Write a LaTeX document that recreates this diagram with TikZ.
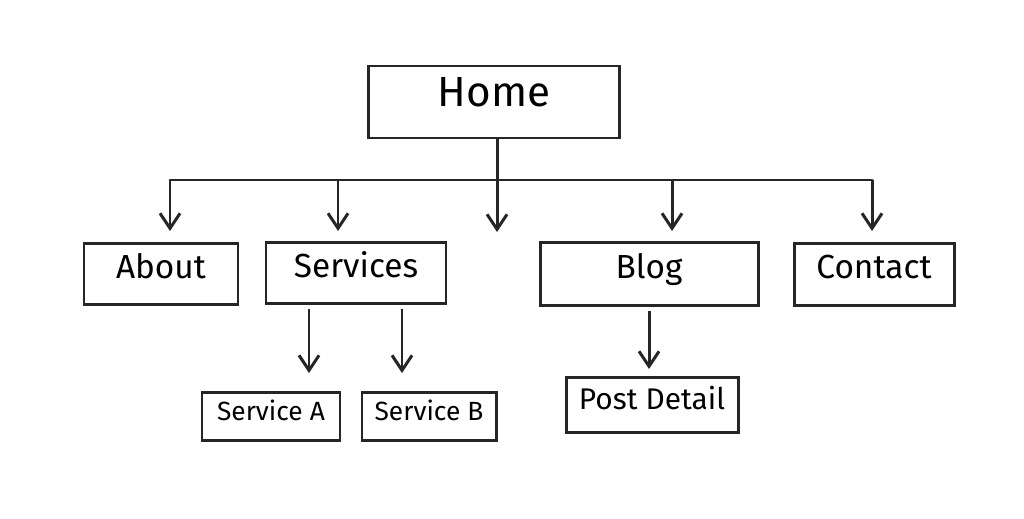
\documentclass[tikz,border=0pt]{standalone}
\usepackage{fontspec}
\setmainfont{Fira Sans}
\usetikzlibrary{arrows.meta,positioning}
\tikzset{
  page/.style={draw=none,fill=white},
  box/.style={draw=black!85, line width=1.7pt, inner sep=0pt, text height=0.72em, text depth=0.22em},
  link/.style={-{Straight Barb[length=3mm,width=4mm]}, line width=1.7pt, black!85},
}
\begin{document}
\begin{tikzpicture}[x=0.02cm,y=-0.02cm]
    \path[page] (0,0) rectangle (1024,518);
    \useasboundingbox (0,0) rectangle (1024,518);
    % pages
    \node[box, minimum width=251*0.02cm, minimum height=72*0.02cm, font=\fontsize{24}{28}\selectfont] (home) at (494,102) {Home};
    \node[box, minimum width=154*0.02cm, minimum height=61*0.02cm, font=\fontsize{19}{22}\selectfont] (about) at (161,274) {About};
    \node[box, minimum width=180*0.02cm, minimum height=61*0.02cm, font=\fontsize{19}{22}\selectfont] (services) at (356,273) {Services};
    \node[box, minimum width=218*0.02cm, minimum height=63*0.02cm, font=\fontsize{19}{22}\selectfont] (blog) at (649,274) {Blog};
    \node[box, minimum width=160*0.02cm, minimum height=62*0.02cm, font=\fontsize{19}{22}\selectfont] (contact) at (874,274) {Contact};
    \node[box, minimum width=138*0.02cm, minimum height=48*0.02cm, font=\fontsize{15}{18}\selectfont] (servA) at (271,416) {Service A};
    \node[box, minimum width=134*0.02cm, minimum height=48*0.02cm, font=\fontsize{15}{18}\selectfont] (servB) at (429,416) {Service B};
    \node[box, minimum width=172*0.02cm, minimum height=55*0.02cm, font=\fontsize{17}{20}\selectfont] (post) at (652,405) {Post Detail};
    % bus and arrow ends
    \coordinate (busL) at (170,180);
    \coordinate (busR) at (872,180);
    \coordinate (mid) at (497,232);
    \draw[line width=1.7pt, black!85, line cap=round] (busL) -- (busR);
    \draw[line width=1.7pt, black!85] (home.south -| mid) -- (mid |- busL);
    \draw[link] (mid |- busL) -- (mid);
    \foreach \x in {170, 338, 672, 872}
      \draw[link] (\x,180) -- (\x,231);
    \draw[link] (309,309) -- (309,373);
    \draw[link] (402,309) -- (402,373);
    \draw[link] (649,311) -- (649,369);
\end{tikzpicture}
\end{document}
